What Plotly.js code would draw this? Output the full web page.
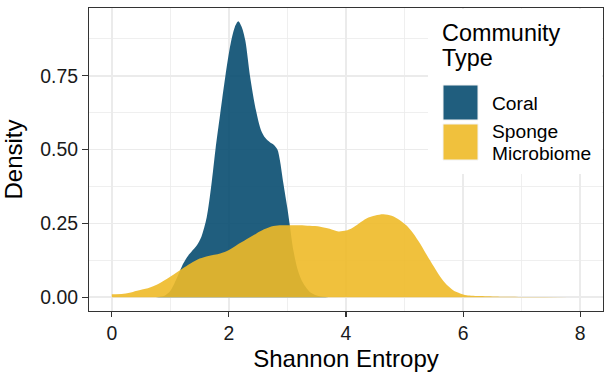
<!DOCTYPE html>
<html>
<head>
<meta charset="utf-8">
<script src="https://cdn.plot.ly/plotly-3.0.1.min.js"></script>
<style>html,body{margin:0;padding:0;background:#fff;}#chart{width:604px;height:372px;}</style>
</head>
<body>
<div id="chart"></div>
<script>
// Density curves
const coralX = [0.75,0.90,1.00,1.10,1.22,1.30,1.36,1.45,1.53,1.62,1.70,1.77,1.85,1.94,2.03,2.10,2.16,2.22,2.28,2.36,2.46,2.55,2.62,2.70,2.77,2.83,2.87,2.93,3.00,3.04,3.10,3.18,3.27,3.40,3.55,3.70];
const coralY = [0.000,0.005,0.022,0.060,0.114,0.140,0.154,0.175,0.205,0.270,0.380,0.500,0.620,0.750,0.860,0.915,0.935,0.915,0.870,0.750,0.635,0.565,0.540,0.525,0.516,0.500,0.465,0.386,0.300,0.244,0.160,0.090,0.047,0.015,0.003,0.000];

const spongeX = [0.00,0.20,0.36,0.50,0.65,0.80,0.93,1.05,1.19,1.35,1.50,1.65,1.85,2.00,2.13,2.30,2.47,2.60,2.76,2.90,3.04,3.21,3.38,3.56,3.72,3.87,4.00,4.10,4.22,4.35,4.50,4.64,4.78,4.92,5.04,5.15,5.27,5.38,5.50,5.61,5.72,5.83,5.95,6.06,6.30,6.63,7.00,7.40,7.80];
const spongeY = [0.010,0.012,0.018,0.025,0.033,0.046,0.061,0.076,0.095,0.115,0.131,0.140,0.148,0.160,0.176,0.196,0.216,0.230,0.241,0.244,0.244,0.244,0.242,0.239,0.232,0.223,0.226,0.234,0.250,0.267,0.277,0.281,0.276,0.261,0.242,0.216,0.180,0.143,0.104,0.069,0.042,0.024,0.013,0.007,0.004,0.002,0.001,0.0005,0.0002];

const seriesNames = ["Coral", "Sponge Microbiome"];
const seriesLabelLines = [["Coral"], ["Sponge", "Microbiome"]];
const legendTitle = ["Community", "Type"];
const xTicks = [0, 2, 4, 6, 8];
const yTicks = [0, 0.25, 0.5, 0.75];

const coralFill = "rgba(8,77,112,0.9)";
const spongeFill = "rgba(238,186,40,0.9)";
const FONT = "Liberation Sans, Arial, Helvetica, sans-serif";

const traces = [
  {x: coralX, y: coralY, type: "scatter", mode: "lines", fill: "tozeroy",
   fillcolor: coralFill, line: {width: 0, shape: "spline", smoothing: 0.8, color: coralFill},
   name: seriesNames[0], showlegend: false, hoverinfo: "x+y"},
  {x: spongeX, y: spongeY, type: "scatter", mode: "lines", fill: "tozeroy",
   fillcolor: spongeFill, line: {width: 0, shape: "spline", smoothing: 0.8, color: spongeFill},
   name: seriesNames[1], showlegend: false, hoverinfo: "x+y"}
];

// legend geometry in paper coordinates
const px2x = p => (p - 89) / 514;
const px2y = p => (311 - p) / 303;

const shapes = [
  {type: "rect", xref: "paper", yref: "paper", x0: px2x(428), x1: px2x(602), y0: px2y(174), y1: px2y(9),
   fillcolor: "#ffffff", line: {width: 0}, layer: "above"},
  {type: "rect", xref: "paper", yref: "paper", x0: px2x(443), x1: px2x(478), y0: px2y(120), y1: px2y(85),
   fillcolor: coralFill, line: {width: 1, color: "#f2f2f2"}, layer: "above"},
  {type: "rect", xref: "paper", yref: "paper", x0: px2x(443), x1: px2x(478), y0: px2y(160), y1: px2y(124),
   fillcolor: spongeFill, line: {width: 1, color: "#f2f2f2"}, layer: "above"}
];

const ann = (txt, x, y, size) => ({text: txt, xref: "paper", yref: "paper", x: px2x(x), y: px2y(y),
  xanchor: "left", yanchor: "middle", showarrow: false, align: "left", borderpad: 0,
  font: {family: FONT, size: size, color: "#000"}});

const annotations = [
  ann(legendTitle[0], 441, 32.5, 23.4),
  ann(legendTitle[1], 441, 58.5, 23.4),
  ann(seriesLabelLines[0][0], 491, 103, 19.2),
  ann(seriesLabelLines[1][0], 491, 131.5, 19.2),
  ann(seriesLabelLines[1][1], 491, 153.5, 19.2)
];

const layout = {
  width: 604, height: 372,
  margin: {l: 89, r: 1, t: 8, b: 61, pad: 0},
  paper_bgcolor: "#ffffff", plot_bgcolor: "#ffffff",
  font: {family: FONT, color: "#000"},
  showlegend: false,
  xaxis: {
    range: [-0.39, 8.39], tickvals: xTicks, ticktext: xTicks.map(String),
    showgrid: true, gridcolor: "#EBEBEB", gridwidth: 1.6,
    minor: {dtick: 1, tick0: 0, showgrid: true, gridcolor: "#EBEBEB", gridwidth: 0.8},
    zeroline: false, showline: true, mirror: true, linecolor: "#333333", linewidth: 1.1,
    ticks: "outside", ticklen: 5, tickwidth: 1.1, tickcolor: "#333333",
    tickfont: {size: 19.4, color: "#1a1a1a", family: FONT},
    title: {text: "Shannon Entropy", font: {size: 24, color: "#000", family: FONT}, standoff: 6},
    automargin: false
  },
  yaxis: {
    range: [-0.0467, 0.98], tickvals: yTicks, ticktext: yTicks.map(v => v.toFixed(2)),
    showgrid: true, gridcolor: "#EBEBEB", gridwidth: 1.6,
    minor: {dtick: 0.125, tick0: 0, showgrid: true, gridcolor: "#EBEBEB", gridwidth: 0.8},
    zeroline: false, showline: true, mirror: true, linecolor: "#333333", linewidth: 1.1,
    ticks: "outside", ticklen: 6, tickwidth: 1.1, tickcolor: "#333333",
    tickfont: {size: 19.4, color: "#1a1a1a", family: FONT},
    title: {text: "Density", font: {size: 24, color: "#000", family: FONT}, standoff: 10},
    automargin: false
  },
  shapes: shapes,
  annotations: annotations
};

Plotly.newPlot("chart", traces, layout, {displayModeBar: false, staticPlot: true});
</script>
</body>
</html>
